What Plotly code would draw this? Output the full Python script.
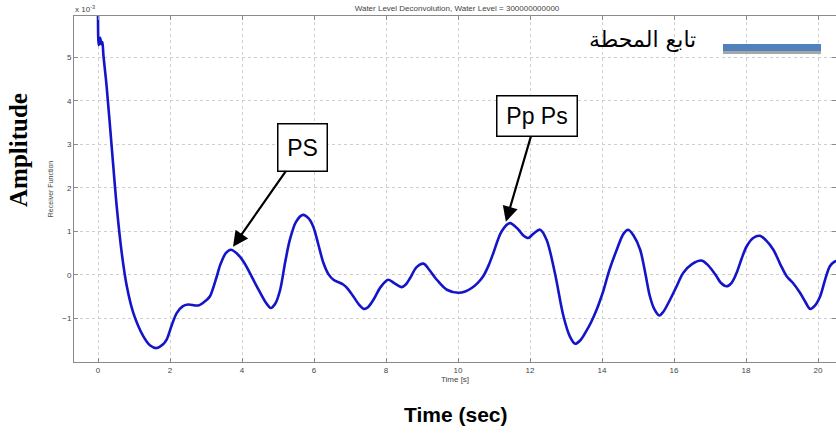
import plotly.graph_objects as go

# ---------------- data (amplitude in units of 1e-3) ----------------
time_s = [0.00, 0.02, 0.06, 0.09, 0.12, 0.15, 0.24, 0.38, 0.52, 0.66, 0.80, 0.98,
          1.26, 1.45, 1.63, 1.80, 1.91, 2.05, 2.19, 2.35, 2.50, 2.79, 3.02, 3.11,
          3.30, 3.39, 3.55, 3.69, 3.85, 4.04, 4.41, 4.65, 4.80, 4.93, 5.06, 5.20,
          5.33, 5.50, 5.69, 5.85, 5.98, 6.12, 6.26, 6.40, 6.54, 6.81, 6.95, 7.09,
          7.25, 7.39, 7.50, 7.65, 7.85, 8.06, 8.25, 8.43, 8.55, 8.67, 8.85, 9.04,
          9.20, 9.41, 9.69, 10.01, 10.20, 10.38, 10.55, 10.70, 10.85, 10.98, 11.21,
          11.44, 11.68, 11.80, 11.95, 12.10, 12.28, 12.46, 12.69, 12.93, 13.10,
          13.25, 13.40, 13.57, 13.70, 13.85, 13.94, 14.04, 14.20, 14.41, 14.60, 14.73,
          14.88, 15.06, 15.20, 15.33, 15.45, 15.59, 15.70, 15.89, 16.05, 16.26,
          16.50, 16.77, 16.95, 17.18, 17.30, 17.46, 17.60, 17.74, 17.88, 18.02,
          18.20, 18.39, 18.55, 18.76, 18.95, 19.13, 19.30, 19.50, 19.65, 19.78,
          19.92, 20.06, 20.20, 20.33, 20.45, 20.55]
amplitude = [6.10, 5.28, 5.45, 5.30, 5.35, 5.05, 4.33, 2.95, 1.57, 0.50, -0.26, -0.87,
             -1.41, -1.62, -1.68, -1.60, -1.48, -1.15, -0.87, -0.72, -0.68, -0.70, -0.57, -0.49,
             -0.03, 0.22, 0.50, 0.58, 0.50, 0.31, -0.26, -0.62, -0.76, -0.65, -0.34, 0.30,
             0.81, 1.22, 1.38, 1.30, 1.11, 0.70, 0.28, 0.02, -0.11, -0.22, -0.33, -0.49,
             -0.68, -0.78, -0.74, -0.57, -0.28, -0.11, -0.20, -0.28, -0.22, -0.07, 0.18, 0.26,
             0.12, -0.11, -0.34, -0.41, -0.38, -0.30, -0.18, -0.03, 0.22, 0.50, 1.00,
             1.19, 1.04, 0.92, 0.85, 0.95, 1.04, 0.81, 0.05, -0.95, -1.40,
             -1.58, -1.50, -1.28, -1.08, -0.80, -0.60, -0.36, 0.10, 0.58, 0.95, 1.04,
             0.90, 0.58, 0.05, -0.49, -0.78, -0.93, -0.85, -0.57, -0.30, 0.05,
             0.25, 0.33, 0.22, -0.03, -0.18, -0.26, -0.18, 0.05, 0.38, 0.66,
             0.85, 0.90, 0.80, 0.58, 0.25, -0.03, -0.18, -0.41, -0.62, -0.78,
             -0.70, -0.49, -0.10, 0.20, 0.30, 0.33]

x_ticks = [0, 2, 4, 6, 8, 10, 12, 14, 16, 18, 20]
y_ticks = [-1, 0, 1, 2, 3, 4, 5]

title_text = "Water Level Deconvolution, Water Level = 300000000000"
legend_text = "تابع المحطة"
ps_label = "PS"
ppps_label = "Pp Ps"
# arrow tip and label-box centre (time, amplitude)
ps_tip, ps_box = (3.75, 0.65), (5.68, 2.93)
ppps_tip, ppps_box = (11.33, 1.22), (12.19, 3.65)

# ---------------- layout helpers ----------------
W, H = 836, 436
L, R, T, B = 74, 0, 16, 74
PW, PH = W - L - R, H - T - B


def xp(px):
    return (px - L) / PW


def yp(py):
    return (H - B - py) / PH


small = dict(family="Liberation Sans, Arial", size=8, color="#444444")

fig = go.Figure()
fig.add_trace(go.Scatter(x=time_s, y=amplitude, mode="lines",
                         line=dict(color="#1414c8", width=2.6, shape="spline", smoothing=0.9),
                         showlegend=False, hoverinfo="skip"))

axis_common = dict(showline=True, linecolor="#8a8a8a", linewidth=1, mirror="ticks",
                   ticks="inside", ticklen=4, tickcolor="#8a8a8a",
                   showgrid=True, gridcolor="#cfcfcf", griddash="dot", gridwidth=1,
                   zeroline=False, tickfont=small)

fig.update_xaxes(range=[-0.667, 20.5], tickvals=x_ticks,
                 title=dict(text="Time [s]", font=small, standoff=2), **axis_common)
fig.update_yaxes(range=[-2.0, 5.95], tickvals=y_ticks,
                 title=dict(text="Receiver Function",
                            font=dict(family="Liberation Sans, Arial", size=7, color="#444444"),
                            standoff=7), **axis_common)

ann = []
# exponent
ann.append(dict(text="x 10<sup>-3</sup>", x=xp(73), y=yp(9), xref="paper", yref="paper",
                showarrow=False, font=small, xanchor="left", yanchor="middle"))
# big axis titles
ann.append(dict(text="<b>Amplitude</b>", x=xp(18), y=yp(150), xref="paper", yref="paper",
                showarrow=False, font=dict(family="Liberation Serif, Times New Roman", size=25, color="black"),
                textangle=-90, xanchor="center", yanchor="middle"))
ann.append(dict(text="<b>Time (sec)</b>", x=xp(456), y=yp(414), xref="paper", yref="paper",
                showarrow=False, font=dict(family="Liberation Sans, Arial", size=21, color="black"),
                xanchor="center", yanchor="middle"))
# legend text
ann.append(dict(text=legend_text, x=xp(642), y=yp(40), xref="paper", yref="paper",
                showarrow=False, font=dict(family="DejaVu Sans", size=22, color="black"),
                xanchor="center", yanchor="middle"))
# label boxes with arrows pointing at the phases
for label, tip, box, w, h in [(ps_label, ps_tip, ps_box, 48, 46),
                              (ppps_label, ppps_tip, ppps_box, 79, 39)]:
    ann.append(dict(text=label, x=tip[0], y=tip[1], xref="x", yref="y",
                    ax=box[0], ay=box[1], axref="x", ayref="y",
                    showarrow=True, arrowhead=2, arrowsize=1.4, arrowwidth=2.2,
                    arrowcolor="black", standoff=0,
                    font=dict(family="Liberation Sans, Arial", size=23, color="black"),
                    bgcolor="white", bordercolor="black", borderwidth=1.5, borderpad=0,
                    width=w, height=h))

shapes = [
    dict(type="rect", xref="paper", yref="paper", x0=xp(723), x1=xp(821),
         y0=yp(54), y1=yp(51), fillcolor="#a6a6a6", line=dict(width=0)),
    dict(type="rect", xref="paper", yref="paper", x0=xp(723), x1=xp(821),
         y0=yp(51), y1=yp(44), fillcolor="#4f81bd", line=dict(width=0)),
]

fig.update_layout(width=W, height=H, margin=dict(l=L, r=R, t=T, b=B),
                  paper_bgcolor="white", plot_bgcolor="white",
                  title=dict(text=title_text, font=small, x=xp(457) * PW / W + L / W,
                             xanchor="center", y=1 - 8 / H, yanchor="middle",
                             xref="paper" if False else "container"),
                  annotations=ann, shapes=shapes, showlegend=False)

fig.write_html("out.html", config={"displayModeBar": False})
